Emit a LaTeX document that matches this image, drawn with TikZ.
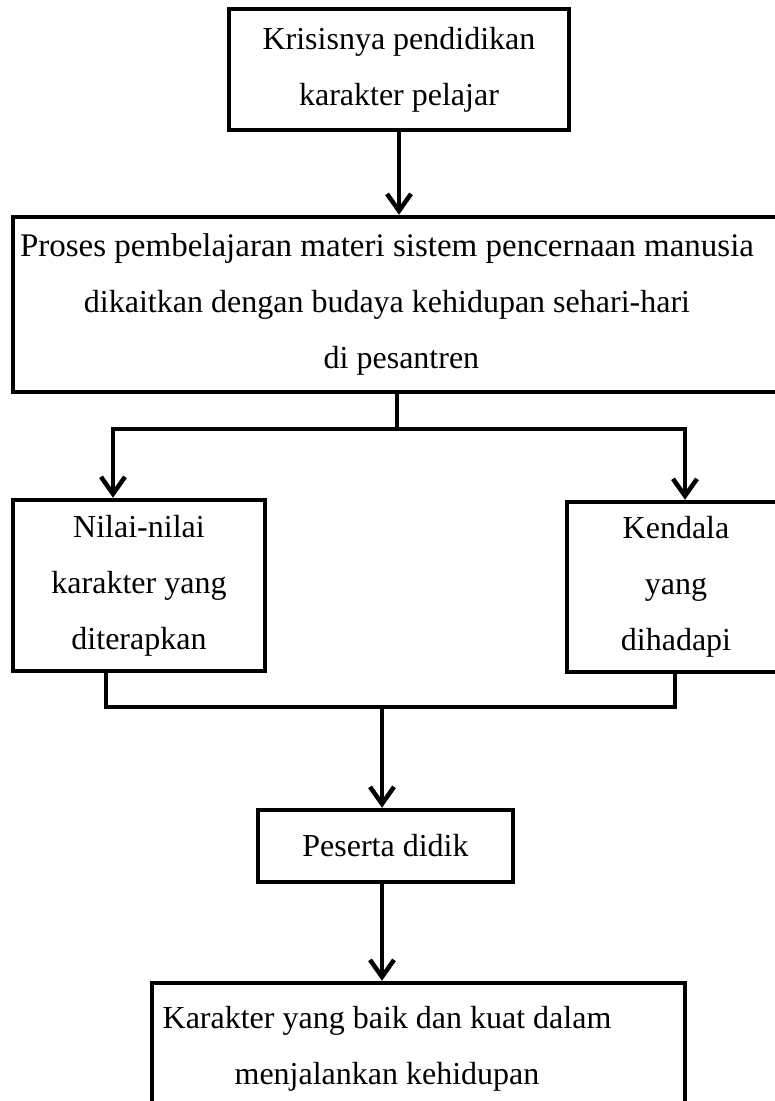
\documentclass[tikz,border=0pt]{standalone}
\usepackage{fontspec}
\setmainfont{Liberation Serif}
\usetikzlibrary{arrows.meta,positioning,calc}

\begin{document}
\begin{tikzpicture}[x=1pt,y=-1pt,>={Straight Barb[length=17pt,width=24pt]},
 font=\fontsize{32}{56}\selectfont,
 box/.style={draw,line width=4.5pt,align=center,inner sep=0pt},
 multi/.style={box,execute at begin node={\rule{0pt}{32pt}}},
 conn/.style={line width=4.5pt},
 arr/.style={->,line width=4.5pt}]
\useasboundingbox (0,0) rectangle (775,1101);
\clip (0,0) rectangle (775,1101);
\node[multi,minimum width=340pt,minimum height=121pt] (krisis) at (399,69.5) {Krisisnya pendidikan\\karakter pelajar};
\node[multi,minimum width=777pt,minimum height=175pt] (proses) at (401.5,304.5)
 {\hspace*{-29pt}{\fontsize{33}{56}\selectfont Proses pembelajaran materi sistem pencernaan manusia}\\\hspace*{-29pt}dikaitkan dengan budaya kehidupan sehari-hari\\di pesantren};
\node[multi,minimum width=252pt,minimum height=171pt] (nilai) at (139,585.5) {Nilai-nilai\\karakter yang\\diterapkan};
\node[multi,minimum width=218pt,minimum height=170pt] (kendala) at (676,587) {Kendala\\yang\\dihadapi};
\node[box,minimum width=255pt,minimum height=72pt] (peserta) at (385.5,846) {Peserta didik};
\node[multi,minimum width=533pt,minimum height=131pt] (hasil) at (418.5,1048.5)
 {\hspace*{-63pt}Karakter yang baik dan kuat dalam\\\hspace*{-63pt}menjalankan kehidupan};
\coordinate (split) at (397,429);
\coordinate (splitL) at (113,429);
\coordinate (splitR) at (685,429);
\coordinate (join) at (382,707);
\coordinate (joinL) at (106,707);
\coordinate (joinR) at (675,707);
\draw[arr] (krisis.south) -- (krisis.south |- proses.north);
\draw[conn] (proses.south -| split) -- (split);
\draw[arr] (split) -| (splitL |- nilai.north);
\draw[arr] (split) -| (splitR |- kendala.north);
\draw[conn] (joinL |- nilai.south) -- (joinL) -- (joinR) -- (joinR |- kendala.south);
\draw[arr] (join) -- (join |- peserta.north);
\draw[arr] (peserta.south -| join) -- (join |- hasil.north);
\end{tikzpicture}
\end{document}
